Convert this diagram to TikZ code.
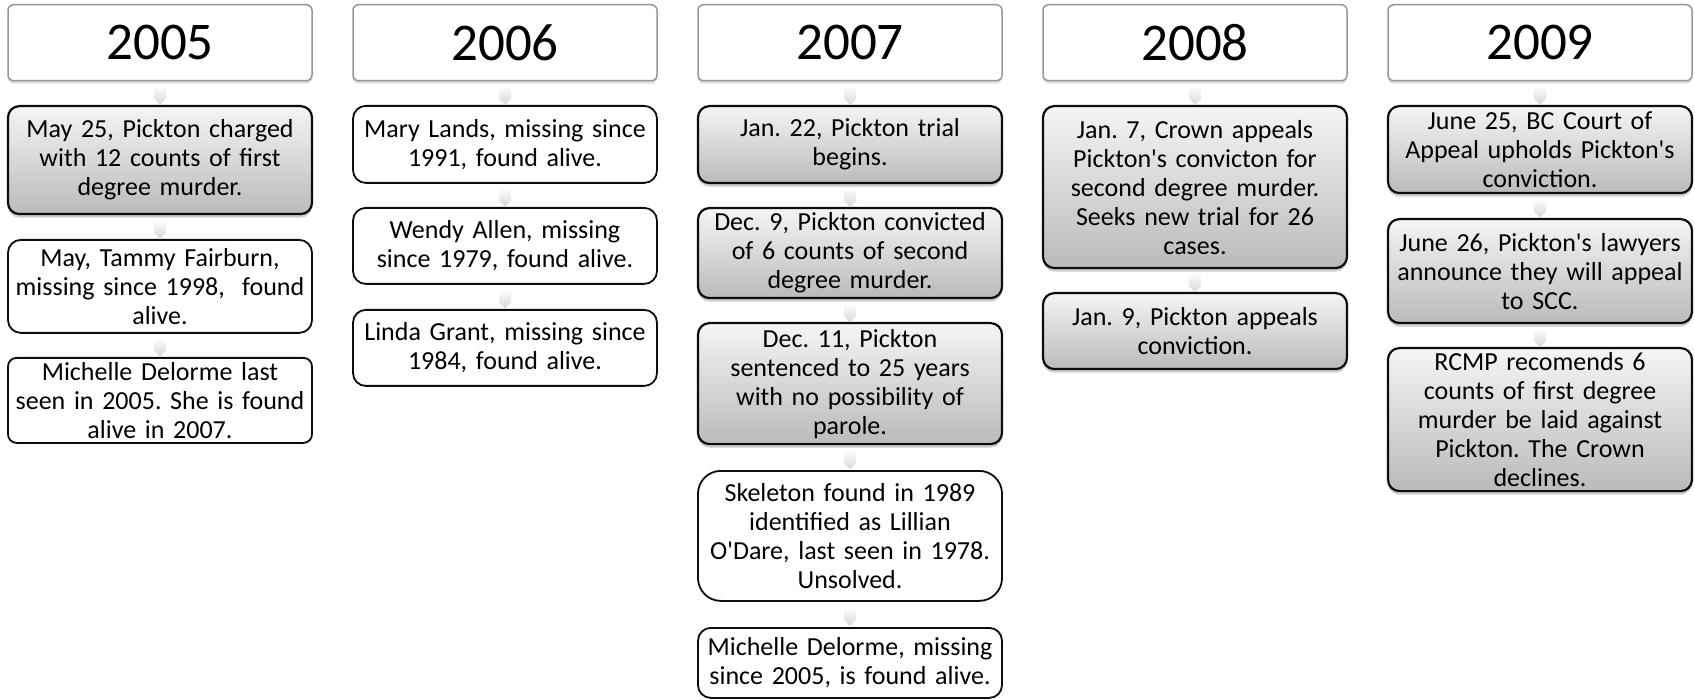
\documentclass[tikz,border=0pt]{standalone}
\usepackage{fontspec}
\setmainfont{Carlito}
\frenchspacing
\usetikzlibrary{positioning, shadows, shapes.symbols}
\tikzstyle{timeline} = [x = 1pt, y = -1pt]
\definecolor{boxLine}{RGB}{13,13,13}
\definecolor{yearLine}{RGB}{150,150,150}
\definecolor{chevronTop}{RGB}{250,250,250}
\definecolor{chevronBottom}{RGB}{215,215,215}
\tikzstyle{yearStyle} = [draw = yearLine, line width = 1.5pt, fill = white, rounded corners = .2cm, minimum width = 304pt, minimum height = 76pt, anchor = north, inner sep = 0pt, font = \fontsize{53}{58}\selectfont, drop shadow = {shadow xshift = 0pt, shadow yshift = -3pt, opacity = .25}]
\tikzstyle{eventStyle} = [draw = boxLine, line width = 1.8pt, fill = white, rounded corners = .45cm, minimum width = 304pt, text width = 296pt, align = center, anchor = north, inner sep = 0pt, font = \fontsize{26}{29}\selectfont]
\tikzstyle{shadedStyle} = [eventStyle, line width = 2.2pt, rounded corners = .4cm, top color = black!4, bottom color = black!27, drop shadow = {shadow xshift = 0pt, shadow yshift = -3.5pt, opacity = .4}]
\tikzstyle{chevronStyle} = [signal, signal to = south, top color = chevronTop, bottom color = chevronBottom, draw = none, minimum width = 12pt, minimum height = 11pt, inner sep = 0pt]
\newcommand{\apos}{\textquotesingle}
\newcommand{\yearBox}[3]{\node [yearStyle] (#1) at (#2, 4) {#3};}
\newcommand{\plainEvent}[5]{\node [eventStyle, minimum height = #4pt] (#1) at (#2, #3) {#5};}
\newcommand{\shadedEvent}[5]{\node [shadedStyle, minimum height = #4pt] (#1) at (#2, #3) {#5};}
\newcommand{\chevronLink}[2]{\path (#1.south) -- node [chevronStyle] {} (#2.north);}

\begin{document}
\begin{tikzpicture}[timeline]
  \useasboundingbox (0, 0) rectangle (1695, 700);

  % 2005
  \yearBox{y05}{160}{2005}
  \shadedEvent{e05a}{160}{105}{108}{May 25, Pickton charged\\with 12 counts of first\\degree murder.}
  \plainEvent{e05b}{160}{239}{93}{May, Tammy Fairburn,\\missing since 1998,~ found\\alive.}
  \node [eventStyle, rounded corners = .3cm, minimum height = 85pt] (e05c) at (160, 357) {Michelle Delorme last\\seen in 2005. She is found\\alive in 2007.};
  \chevronLink{y05}{e05a}
  \chevronLink{e05a}{e05b}
  \chevronLink{e05b}{e05c}

  % 2006
  \yearBox{y06}{505}{2006}
  \plainEvent{e06a}{505}{105}{77}{Mary Lands, missing since\\1991, found alive.}
  \plainEvent{e06b}{505}{207}{76}{Wendy Allen, missing\\since 1979, found alive.}
  \plainEvent{e06c}{505}{309}{76}{Linda Grant, missing since\\1984, found alive.}
  \chevronLink{y06}{e06a}
  \chevronLink{e06a}{e06b}
  \chevronLink{e06b}{e06c}

  % 2007
  \yearBox{y07}{850}{2007}
  \shadedEvent{e07a}{850}{105}{77}{Jan. 22, Pickton trial\\begins.}
  \shadedEvent{e07b}{850}{207}{90}{Dec. 9, Pickton convicted\\of 6 counts of second\\degree murder.}
  \shadedEvent{e07c}{850}{322}{121}{Dec. 11, Pickton\\sentenced to 25 years\\with no possibility of\\parole.}
  \node [eventStyle, rounded corners = .8cm, minimum height = 130pt] (e07d) at (850, 470) {Skeleton found in 1989\\identified as Lillian\\O\apos Dare, last seen in 1978.\\Unsolved.};
  \plainEvent{e07e}{850}{627}{70}{Michelle Delorme, missing\\since 2005, is found alive.}
  \chevronLink{y07}{e07a}
  \chevronLink{e07a}{e07b}
  \chevronLink{e07b}{e07c}
  \chevronLink{e07c}{e07d}
  \chevronLink{e07d}{e07e}

  % 2008
  \yearBox{y08}{1195}{2008}
  \shadedEvent{e08a}{1195}{105}{162}{Jan. 7, Crown appeals\\Pickton\apos s convicton for\\second degree murder.\\Seeks new trial for 26\\cases.}
  \shadedEvent{e08b}{1195}{292}{76}{Jan. 9, Pickton appeals\\conviction.}
  \chevronLink{y08}{e08a}
  \chevronLink{e08a}{e08b}

  % 2009
  \yearBox{y09}{1540}{2009}
  \shadedEvent{e09a}{1540}{105}{87}{June 25, BC Court of\\Appeal upholds Pickton\apos s\\conviction.}
  \shadedEvent{e09b}{1540}{218}{104}{June 26, Pickton\apos s lawyers\\announce they will appeal\\to SCC.}
  \shadedEvent{e09c}{1540}{347}{143}{RCMP recomends 6\\counts of first degree\\murder be laid against\\Pickton. The Crown\\declines.}
  \chevronLink{y09}{e09a}
  \chevronLink{e09a}{e09b}
  \chevronLink{e09b}{e09c}
\end{tikzpicture}
\end{document}
